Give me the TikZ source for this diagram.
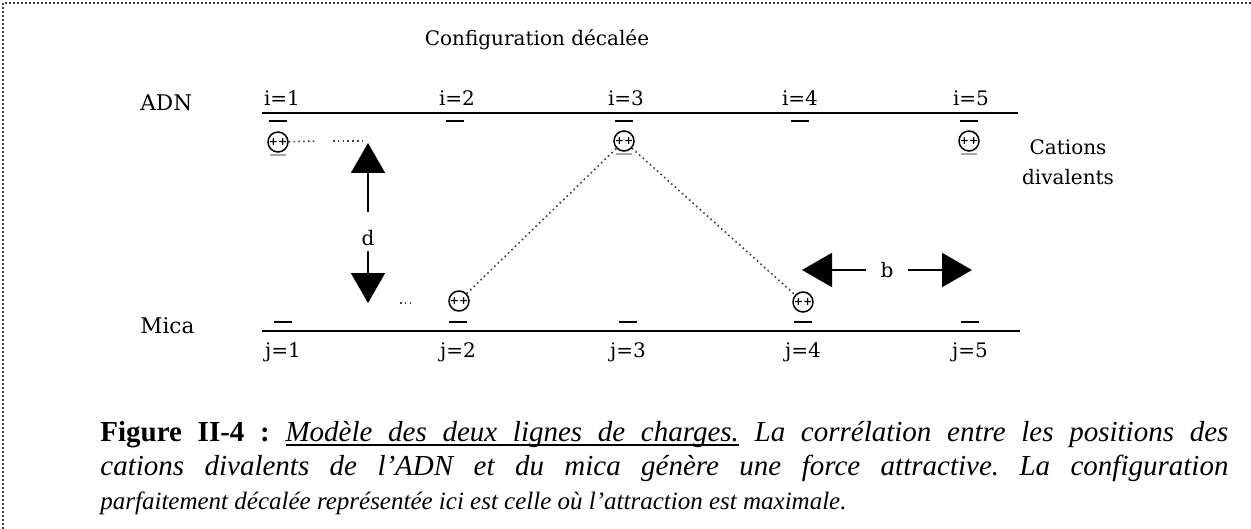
\documentclass[tikz,border=0pt]{standalone}
\usepackage{fontspec}
\newfontfamily\capfont{Liberation Serif}
\newfontfamily\dfont{DejaVu Serif}
\usetikzlibrary{arrows.meta}
\newcommand\ulw[1]{\setbox0\hbox{#1}\rlap{\rule[-2.4pt]{\wd0}{0.7pt}}\box0}
\newcommand\ulsp{\leaders\hrule height -1.7pt depth 2.4pt\hskip\fontdimen2\font plus\fontdimen3\font minus\fontdimen4\font\relax}
\begin{document}
\begin{tikzpicture}[x=0.5pt,y=-0.5pt,
  frame/.style={line width=0.8pt, black!75, dash pattern=on 0.8pt off 1.2pt},
  lbl/.style={font=\dfont\fontsize{10}{12}\selectfont, inner sep=0},
  big/.style={font=\dfont\fontsize{10.8}{12}\selectfont},
  cat/.style={circle, draw, line width=0.75pt, minimum size=10pt, inner sep=0,
              font=\dfont\bfseries\fontsize{5.5}{5.5}\selectfont},
  neg/.style={fill=black, draw=none, minimum width=9pt, minimum height=1.1pt, inner sep=0},
  ghost/.style={fill=black!35, draw=none, minimum width=8pt, minimum height=0.9pt, inner sep=0},
  chargeline/.style={line width=1pt},
  bigarrow/.style={line width=1pt, -{Triangle[length=15pt,width=17pt]}},
  dots/.style={dash pattern=on 0.8pt off 1.6pt, line width=0.8pt, black!75}
]
\useasboundingbox (0,0) rectangle (1251,529);
\draw[frame] (3,529) -- (3,3) -- (1251,3);

% title
\node[lbl] (title) at (537,40) {Configuration décalée};

% ADN line
\node[lbl, big, anchor=base west] (adn) at (140,111) {ADN};
\coordinate (adnL) at (262,113);
\coordinate (adnR) at (1018,113);
\draw[chargeline] (adnL) -- (adnR);
\node[lbl, anchor=base] (i1) at (282,106) {i=1};
\node[lbl, anchor=base] (i2) at (457,106) {i=2};
\node[lbl, anchor=base] (i3) at (626,106) {i=3};
\node[lbl, anchor=base] (i4) at (800,106) {i=4};
\node[lbl, anchor=base] (i5) at (971,106) {i=5};
\node[neg] (n1) at (278,121) {};
\node[neg] (n2) at (455,121) {};
\node[neg] (n3) at (624,121) {};
\node[neg] (n4) at (800,121) {};
\node[neg] (n5) at (969,121) {};
\node[cat] (c1) at (278,142) {++};
\node[cat] (c3) at (624,141) {++};
\node[cat] (c5) at (969,141) {++};
\node[ghost] (g1) at (278,155) {};
\node[ghost] (g3) at (624,154) {};
\node[ghost] (g5) at (969,154) {};

\node[lbl, align=center, font=\dfont\fontsize{10}{15}\selectfont] (cations) at (1068,162) {Cations\\divalents};

% Mica line
\node[lbl, big, anchor=base west] (mica) at (140,333) {Mica};
\coordinate (micaL) at (262,331);
\coordinate (micaR) at (1020,331);
\draw[chargeline] (micaL) -- (micaR);
\node[neg] (m1n) at (283,322) {};
\node[neg] (m2n) at (458,322) {};
\node[neg] (m3n) at (628,322) {};
\node[neg] (m4n) at (803,322) {};
\node[neg] (m5n) at (970,322) {};
\node[cat] (m2) at (459,301) {++};
\node[cat] (m4) at (803,302) {++};
\node[lbl, anchor=base] (j1) at (283,357) {j=1};
\node[lbl, anchor=base] (j2) at (458,357) {j=2};
\node[lbl, anchor=base] (j3) at (628,357) {j=3};
\node[lbl, anchor=base] (j4) at (803,357) {j=4};
\node[lbl, anchor=base] (j5) at (970,357) {j=5};

% dotted correlations
\coordinate (p1) at (317,141);
\coordinate (p2) at (333,141);
\coordinate (p3) at (362,141);
\draw[dots] (c1) -- (p1);
\draw[dots] (p2) -- (p3);
\coordinate (q1) at (400,303);
\coordinate (q2) at (413,303);
\draw[dots] (q1) -- (q2);
\draw[dots] (m2) -- (c3);
\draw[dots] (c3) -- (m4);

% d arrows
\node[lbl] (d) at (368,238) {d};
\coordinate (du0) at (368,212);
\coordinate (du1) at (368,143);
\coordinate (dd0) at (368,251);
\coordinate (dd1) at (368,303);
\draw[bigarrow] (du0) -- (du1);
\draw[bigarrow] (dd0) -- (dd1);

% b arrows
\node[lbl] (b) at (887,270) {b};
\coordinate (bl0) at (866,270);
\coordinate (bl1) at (802,270);
\coordinate (br0) at (908,270);
\coordinate (br1) at (972,270);
\draw[bigarrow] (bl0) -- (bl1);
\draw[bigarrow] (br0) -- (br1);

% caption
\node[anchor=base west, inner sep=0, text width=564pt, align=justify,
      font=\capfont\fontsize{14.5}{17}\selectfont\frenchspacing] (cap) at (100,441)
 {\textbf{Figure II-4 :} \textit{\ulw{Modèle}\ulsp\ulw{des}\ulsp\ulw{deux}\ulsp\ulw{lignes}\ulsp\ulw{de}\ulsp\ulw{charges.}}\ \textit{La corrélation entre les positions des\linebreak
 cations divalents de l’ADN et du mica génère une force attractive. La configuration}\linebreak
 {\fontsize{12.5}{17}\selectfont\itshape parfaitement décalée représentée ici est celle où l’attraction est maximale.}};
\end{tikzpicture}
\end{document}
